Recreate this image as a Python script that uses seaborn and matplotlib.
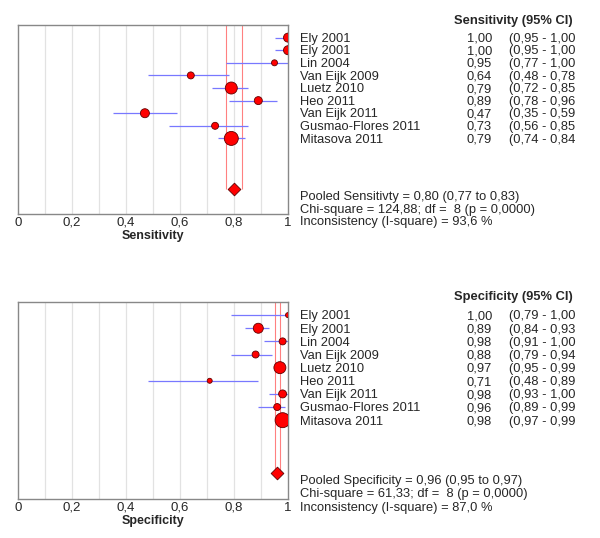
import numpy as np
import pandas as pd
import matplotlib
matplotlib.use("Agg")
import matplotlib.pyplot as plt
import seaborn as sns

studies = ["Ely 2001", "Ely 2001", "Lin 2004", "Van Eijk 2009", "Luetz 2010",
           "Heo 2011", "Van Eijk 2011", "Gusmao-Flores 2011", "Mitasova 2011"]

sens = [1.00, 1.00, 0.95, 0.64, 0.79, 0.89, 0.47, 0.73, 0.79]
sens_lo = [0.95, 0.95, 0.77, 0.48, 0.72, 0.78, 0.35, 0.56, 0.74]
sens_hi = [1.00, 1.00, 1.00, 0.78, 0.85, 0.96, 0.59, 0.85, 0.84]
sens_w = [81, 81, 36, 49, 144, 64, 81, 49, 196]
sens_pooled = [0.80, 0.77, 0.83]
sens_stats = ["Pooled Sensitivty = 0,80 (0,77 to 0,83)",
              "Chi-square = 124,88; df =  8 (p = 0,0000)",
              "Inconsistency (I-square) = 93,6 %"]

spec = [1.00, 0.89, 0.98, 0.88, 0.97, 0.71, 0.98, 0.96, 0.98]
spec_lo = [0.79, 0.84, 0.91, 0.79, 0.95, 0.48, 0.93, 0.89, 0.97]
spec_hi = [1.00, 0.93, 1.00, 0.94, 0.99, 0.89, 1.00, 0.99, 0.99]
spec_w = [25, 100, 49, 49, 144, 25, 64, 49, 225]
spec_pooled = [0.96, 0.95, 0.97]
spec_stats = ["Pooled Specificity = 0,96 (0,95 to 0,97)",
              "Chi-square = 61,33; df =  8 (p = 0,0000)",
              "Inconsistency (I-square) = 87,0 %"]

xticks = [0, 0.2, 0.4, 0.6, 0.8, 1.0]
xticklabels = ["0", "0,2", "0,4", "0,6", "0,8", "1"]

sns.set_style("white")
plt.rcParams["font.family"] = ["Liberation Sans", "DejaVu Sans"]

fig = plt.figure(figsize=(6.0, 5.38), dpi=100)
FS = 9.3

def fmt(v):
    return f"{v:.2f}".replace(".", ",")

def panel(rect, name, est, lo, hi, w, pooled, stats):
    ax = fig.add_axes(rect)
    rows = np.arange(1, len(est) + 1)
    df = pd.DataFrame({"study": studies, "est": est, "lo": lo, "hi": hi,
                       "w": w, "row": rows})
    for g in np.arange(0.1, 1.0, 0.1):
        ax.axvline(g, color="#e2e2e2", lw=0.9, zorder=0)
    ax.hlines(df["row"], df["lo"], df["hi"], color="#7878ff", lw=0.9, zorder=2)
    sns.scatterplot(data=df, x="est", y="row", size="w", sizes=(0, 116.6),
                    size_norm=(0, 225), color="#ff0000", edgecolor="#600000",
                    linewidth=0.6, legend=False, ax=ax, zorder=3)
    ax.vlines([pooled[1], pooled[2]], 0, 13, color="#ff8080", lw=0.8, zorder=1)
    sns.scatterplot(x=[pooled[0]], y=[13], marker="D", s=42, color="#ff0000",
                    edgecolor="#600000", linewidth=0.6, legend=False, ax=ax, zorder=4)
    ax.set_xlim(0, 1)
    ax.set_ylim(15, 0)
    ax.set_yticks([])
    ax.set_xticks(xticks)
    ax.set_xticklabels(xticklabels, fontsize=9.5)
    ax.tick_params(axis="x", length=0, pad=2)
    ax.set_xlabel(name, fontsize=9, fontweight="bold", labelpad=1)
    ax.set_ylabel("")
    for s in ax.spines.values():
        s.set_color("#888888")
        s.set_linewidth(1.0)
    # right-hand table
    tr = ax.get_yaxis_transform()
    ax.text(2.055, -0.12, f"{name} (95% CI)", transform=tr, fontsize=FS,
            fontweight="bold", ha="right", va="baseline", clip_on=False)
    for r, st, e, l, h in zip(rows, studies, est, lo, hi):
        yb = r + 0.33
        ax.text(1.044, yb, st, transform=tr, fontsize=FS, ha="left", va="baseline")
        ax.text(1.756, yb, fmt(e), transform=tr, fontsize=FS, ha="right",
                va="baseline")
        ax.text(1.818, yb, f"({fmt(l)} - {fmt(h)}", transform=tr, fontsize=FS,
                ha="left", va="baseline")
    for k, line in enumerate(stats):
        ax.text(1.044, 13.85 + k * 1.03, line, transform=tr, fontsize=FS,
                ha="left", va="baseline")
    return ax

panel([0.03, 0.6022, 0.45, 0.3513], "Sensitivity", sens, sens_lo, sens_hi,
      sens_w, sens_pooled, sens_stats)
panel([0.03, 0.0725, 0.45, 0.3662], "Specificity", spec, spec_lo, spec_hi,
      spec_w, spec_pooled, spec_stats)

fig.savefig("out.png", dpi=100)
